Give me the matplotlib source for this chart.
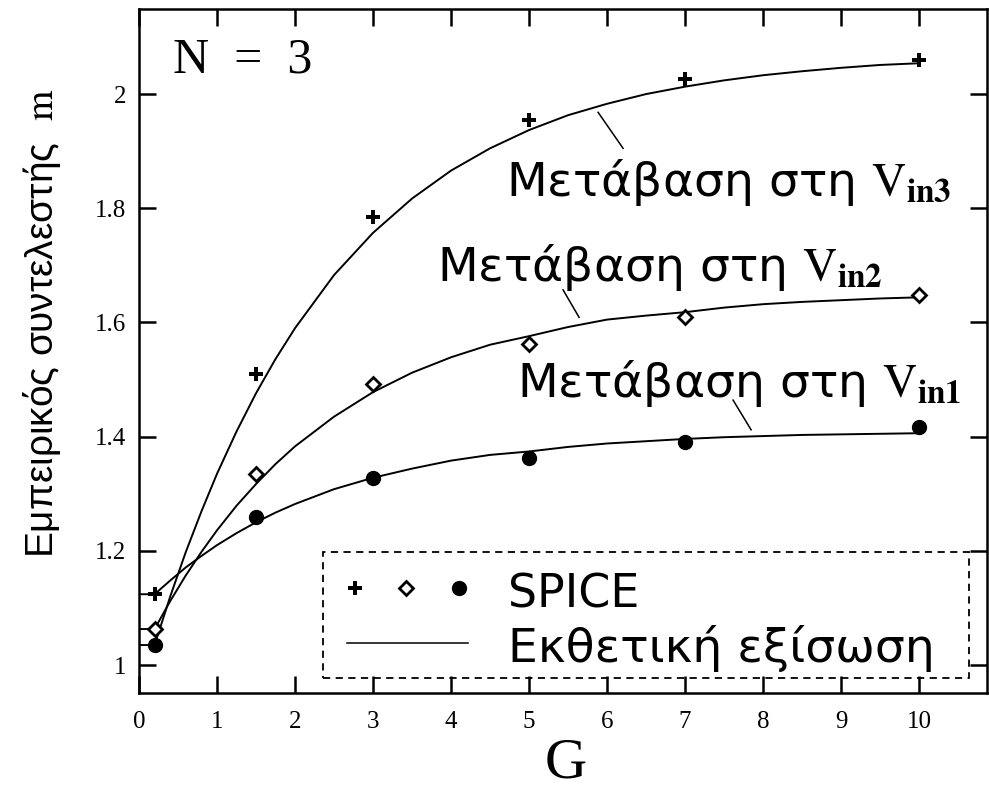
import matplotlib
matplotlib.use('Agg')
import matplotlib.pyplot as plt
from matplotlib import font_manager
from matplotlib.patches import Rectangle

plt.rcParams['mathtext.fontset'] = 'stix'

# SPICE simulation points (gain G -> empirical coefficient m)
G_spice = [0.2, 1.5, 3, 5, 7, 10]
m_vin1 = [1.035, 1.260, 1.327, 1.363, 1.391, 1.417]
m_vin2 = [1.063, 1.335, 1.492, 1.562, 1.609, 1.648]
m_vin3 = [1.124, 1.510, 1.785, 1.954, 2.026, 2.060]

# exponential fit curves
G_fit = [0, 0.2, 0.4, 0.6, 0.8, 1.0, 1.25, 1.5, 1.75, 2.0, 2.5, 3.0, 3.5, 4.0,
         4.5, 5.0, 5.5, 6.0, 6.5, 7.0, 7.5, 8.0, 8.5, 9.0, 9.5, 10.0]
fit_a = [1.124, 1.124, 1.148, 1.171, 1.191, 1.210, 1.231, 1.250, 1.267, 1.282,
         1.308, 1.328, 1.344, 1.358, 1.368, 1.374, 1.382, 1.388, 1.392, 1.396,
         1.399, 1.401, 1.403, 1.404, 1.405, 1.406]
fit_b = [1.063, 1.063, 1.112, 1.157, 1.198, 1.236, 1.279, 1.317, 1.352, 1.383,
         1.435, 1.478, 1.512, 1.539, 1.561, 1.576, 1.592, 1.605, 1.612, 1.618,
         1.626, 1.632, 1.636, 1.639, 1.642, 1.644]
fit_c = [1.035, 1.035, 1.120, 1.198, 1.269, 1.335, 1.409, 1.476, 1.536, 1.590,
         1.683, 1.757, 1.817, 1.866, 1.905, 1.937, 1.963, 1.983, 2.000, 2.013,
         2.024, 2.033, 2.040, 2.046, 2.051, 2.054]

x_ticks = [0, 1, 2, 3, 4, 5, 6, 7, 8, 9, 10]
y_ticks = [1.0, 1.2, 1.4, 1.6, 1.8, 2.0]
y_ticklabels = ['1', '1.2', '1.4', '1.6', '1.8', '2']

names = {f.name for f in font_manager.fontManager.ttflist}
serif = 'Liberation Serif'
sans = 'DejaVu Sans'
narrow = 'Liberation Sans Narrow' if 'Liberation Sans Narrow' in names else 'Liberation Sans'

fig = plt.figure(figsize=(9.89, 7.90), dpi=100)
ax = fig.add_axes([139 / 989, 1 - 693 / 790, 848 / 989, 684 / 790])

ax.plot(G_fit, fit_a, color='black', lw=1.4)
ax.plot(G_fit, fit_b, color='black', lw=1.4)
ax.plot(G_fit, fit_c, color='black', lw=1.4)

ax.plot(G_spice, m_vin3, ls='none', marker='P', ms=9.5, color='black', mew=0)
ax.plot(G_spice, m_vin2, ls='none', marker='D', ms=7, mfc='white', mec='black', mew=2)
ax.plot(G_spice, m_vin1, ls='none', marker='o', ms=10, color='black')

ax.set_xlim(0, 10.87)
ax.set_ylim(0.951, 2.149)
ax.set_xticks(x_ticks)
ax.set_xticklabels([str(t) for t in x_ticks], fontfamily=serif, fontsize=18)
ax.set_yticks(y_ticks)
ax.set_yticklabels(y_ticklabels, fontfamily=serif, fontsize=18)
ax.tick_params(direction='in', length=12, width=1.8, top=True, right=True)
ax.tick_params(axis='x', pad=13)
ax.tick_params(axis='y', pad=9)
for s in ax.spines.values():
    s.set_linewidth(1.8)

# curve labels with short leader lines
lab_kw = dict(fontsize=34, fontfamily=sans, color='black')
ax.text(4.70, 1.822, r'Μετάβαση στη $\mathrm{V}_{\mathbf{in3}}$', **lab_kw)
ax.plot([5.885, 6.205], [1.968, 1.905], color='black', lw=1.1)
ax.text(3.82, 1.672, r'Μετάβαση στη $\mathrm{V}_{\mathbf{in2}}$', **lab_kw)
ax.plot([5.436, 5.641], [1.657, 1.609], color='black', lw=1.1)
ax.text(4.84, 1.47, r'Μετάβαση στη $\mathrm{V}_{\mathbf{in1}}$', **lab_kw)
ax.plot([7.615, 7.846], [1.464, 1.412], color='black', lw=1.1)

ax.text(0.44, 2.038, 'N  =  3', fontsize=36, fontfamily=serif)

# legend box
ax.add_patch(Rectangle((2.359, 0.977), 8.282, 0.221, fill=False,
                       ls=(0, (4, 3)), lw=1.3, ec='black'))
ax.plot([2.769], [1.135], marker='P', ms=9.5, color='black', mew=0)
ax.plot([3.423], [1.135], marker='D', ms=7, mfc='white', mec='black', mew=2)
ax.plot([4.103], [1.135], marker='o', ms=10, color='black')
ax.plot([2.667, 4.218], [1.0385, 1.0385], color='black', lw=1.1)
ax.text(4.731, 1.1016, 'SPICE', fontsize=33, fontfamily=sans)
ax.text(4.731, 1.005, 'Εκθετική εξίσωση', fontsize=34, fontfamily=sans)

fig.text(566 / 989, 1 - 777 / 790, 'G', fontsize=42, fontfamily=serif,
         ha='center', va='baseline')
fig.text(42 / 989, 1 - 323 / 790, r'Εμπειρικός συντελεστής  $\mathrm{m}$',
         rotation=90, fontsize=28, fontfamily=narrow, ha='center', va='center')

fig.savefig('out.png', dpi=100)
